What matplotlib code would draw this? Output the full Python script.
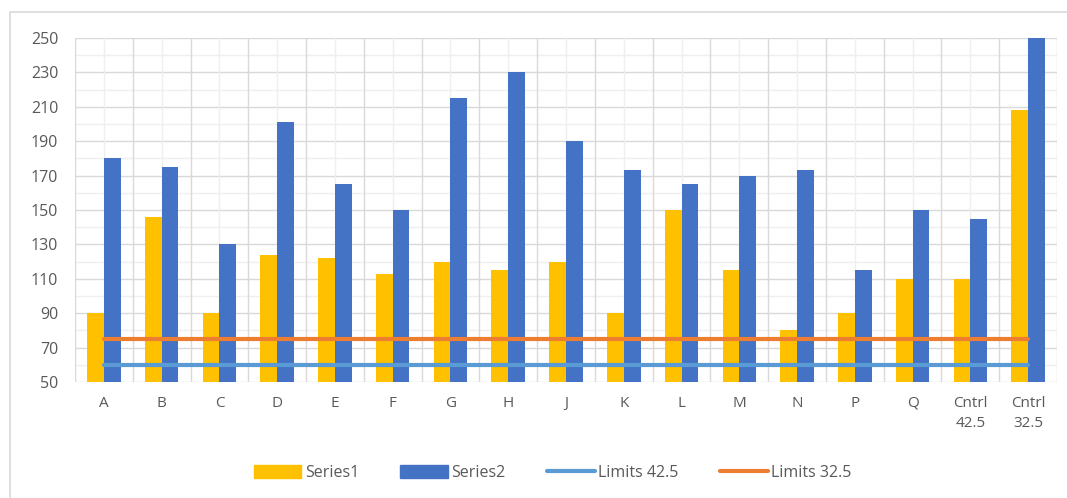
import matplotlib.pyplot as plt
from matplotlib.patches import Rectangle
from matplotlib.lines import Line2D
import numpy as np

categories = ['A', 'B', 'C', 'D', 'E', 'F', 'G', 'H', 'J', 'K', 'L', 'M',
              'N', 'P', 'Q', 'Cntrl\n42.5', 'Cntrl\n32.5']
series1 = [90, 146, 90, 124, 122, 113, 120, 115, 120, 90, 150, 115,
           80, 90, 110, 110, 208]
series2 = [180, 175, 130, 201, 165, 150, 215, 230, 190, 173, 165, 170,
           173, 115, 150, 145, 260]
limit_42 = [60] * len(categories)
limit_32 = [75] * len(categories)

plt.rcParams['font.family'] = ['Open Sans', 'DejaVu Sans']
text_col = '#595959'

fig = plt.figure(figsize=(10.67, 4.98), dpi=100)
ax = fig.add_axes([0.0703, 0.233, 0.9203, 0.6907])

# chart area border
fig.patches.append(Rectangle((10 / 1067, -0.05), 1.1, 1 - 12 / 498 + 0.05,
                             transform=fig.transFigure, fill=False,
                             edgecolor='#D9D9D9', linewidth=1.2, zorder=0))

x = np.arange(len(categories))
w = 0.29
ax.bar(x - w / 2, np.array(series1) - 50, w, bottom=50, color='#FFC000',
       label='Series1', zorder=3)
ax.bar(x + w / 2, np.array(series2) - 50, w, bottom=50, color='#4472C4',
       label='Series2', zorder=3)
ax.plot(x, limit_42, color='#5B9BD5', lw=3, solid_capstyle='round',
        label='Limits 42.5', zorder=4)
ax.plot(x, limit_32, color='#ED7D31', lw=3, solid_capstyle='round',
        label='Limits 32.5', zorder=4)

ax.set_xlim(-0.5, len(categories) - 0.5)
ax.set_ylim(50, 250)
ax.set_yticks(range(50, 251, 20))
ax.set_xticks(x)
ax.set_xticklabels(categories, linespacing=1.5)

for v in range(50, 251, 20):
    ax.axhline(v, color='#D9D9D9', lw=1, zorder=1)
for v in range(60, 250, 20):
    ax.axhline(v, color='#EFEFEF', lw=1, zorder=1)
for v in np.arange(-0.5, len(categories), 1):
    ax.axvline(v, color='#D9D9D9', lw=1, zorder=1)
for v in x:
    ax.axvline(v, color='#EFEFEF', lw=1, zorder=1)

for s in ax.spines.values():
    s.set_visible(False)
ax.tick_params(axis='both', which='both', length=0, colors=text_col,
               labelsize=11)
ax.tick_params(axis='x', pad=10)
ax.tick_params(axis='y', pad=12)
for t in ax.get_yticklabels():
    t.set_fontsize(11.5)

handles = [Rectangle((0, 0), 1, 1, color='#FFC000'),
           Rectangle((0, 0), 1, 1, color='#4472C4'),
           Line2D([], [], color='#5B9BD5', lw=3, solid_capstyle='round'),
           Line2D([], [], color='#ED7D31', lw=3, solid_capstyle='round')]
labels = ['Series1', 'Series2', 'Limits 42.5', 'Limits 32.5']
fig.legend(handles, labels, loc='center', bbox_to_anchor=(0.518, 0.05),
           ncol=4, frameon=False, handlelength=3, handleheight=0.9,
           handletextpad=0.2, columnspacing=2.6, fontsize=11.5,
           labelcolor=text_col)

plt.savefig('out.png', dpi=100)
plt.close()
